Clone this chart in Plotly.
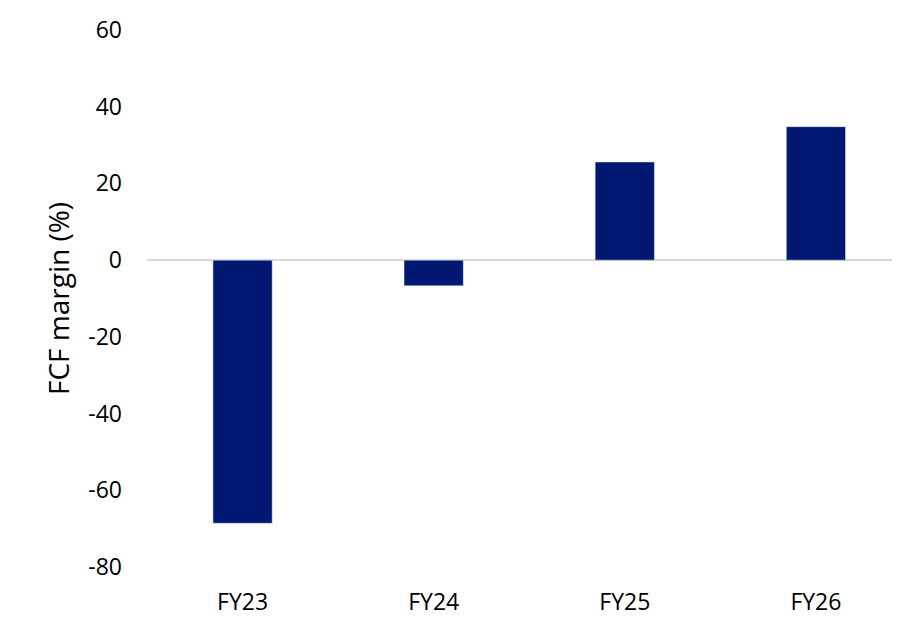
import plotly.graph_objects as go

years = ["FY23", "FY24", "FY25", "FY26"]
fcf_margin = [-68.6, -6.7, 25.6, 34.8]
y_ticks = [-80, -60, -40, -20, 0, 20, 40, 60]
y_labels = ["-80", "-60", "-40", "-20", "0", "20", "40", "60"]

fig = go.Figure()
fig.add_trace(go.Bar(x=years, y=fcf_margin, marker_color="#001871", width=0.31))

fig.update_layout(
    width=892, height=625,
    margin=dict(l=139, r=0, t=22, b=66),
    paper_bgcolor="white", plot_bgcolor="white",
    font=dict(family="Open Sans", size=23, color="#000000"),
    showlegend=False,
)
fig.update_xaxes(range=[-0.5, 3.44], showgrid=False, showline=False, ticks="",
                 ticklabelstandoff=19)
fig.update_yaxes(range=[-80, 60], tickvals=y_ticks, ticktext=y_labels,
                 showgrid=False, showline=False,
                 zeroline=True, zerolinecolor="#d9d9d9", zerolinewidth=2,
                 ticklabelstandoff=24,
                 title=dict(text="FCF margin (%)", standoff=10))

fig.write_html("out.html")
